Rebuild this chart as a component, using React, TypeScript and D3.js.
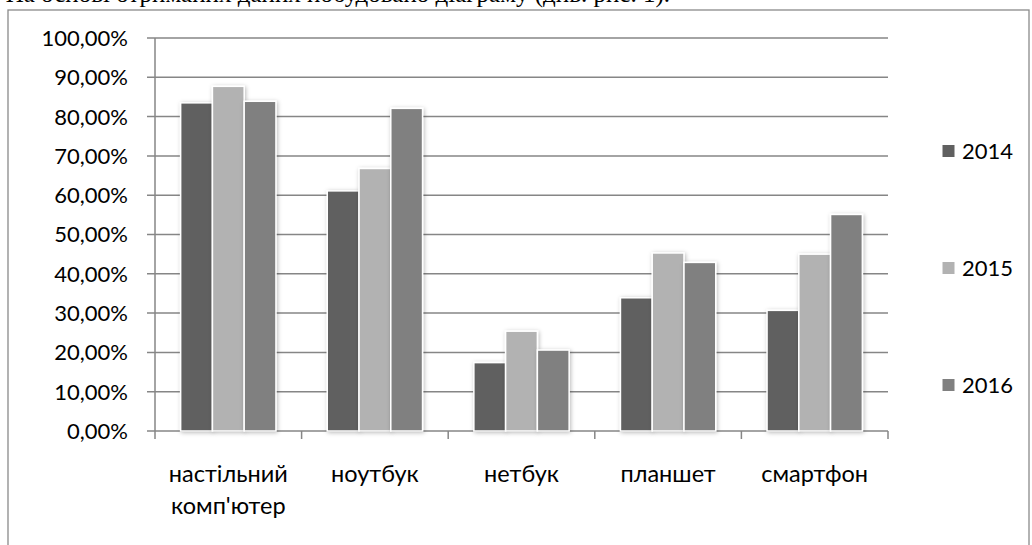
import React from "react";
import * as d3 from "d3";

const categories = ["настільний\nкомп'ютер", "ноутбук", "нетбук", "планшет", "смартфон"];
const years = ["2014", "2015", "2016"];
const values2014 = [0.835, 0.611, 0.174, 0.339, 0.307];
const values2015 = [0.877, 0.668, 0.254, 0.453, 0.45];
const values2016 = [0.839, 0.821, 0.206, 0.429, 0.551];
const yTicks = [0, 0.1, 0.2, 0.3, 0.4, 0.5, 0.6, 0.7, 0.8, 0.9, 1.0];
const colors = ["#606060", "#b2b2b2", "#808080"];
const topText = "На основі отриманих даних побудовано діаграму (див. рис. 1).";

const W = 1032;
const H = 545;
const FONT = "Lato, 'Open Sans', sans-serif";

export default function App() {
  const series = [values2014, values2015, values2016];
  const y = d3.scaleLinear().domain([0, 1]).range([431, 38]);
  const x0 = d3.scaleBand<string>().domain(categories).range([155, 888]).padding(0);
  const groupW = x0.bandwidth() * 0.65;
  const x1 = d3.scaleBand<string>().domain(years).range([0, groupW]).padding(0);
  const off = (x0.bandwidth() - groupW) / 2;
  const fmt = (v: number) => (v * 100).toFixed(2).replace(".", ",") + "%";
  const gridColor = "#868686";
  const boundaries = categories.map((c) => x0(c) as number).concat([888]);

  return (
    <div style={{ position: "absolute", left: 0, top: 0, width: W, height: H, background: "#fff" }}>
      <svg width={W} height={H} style={{ display: "block" }}>
        <defs>
          <filter id="sh" x="-30%" y="-30%" width="160%" height="160%">
            <feDropShadow dx="1" dy="1" stdDeviation="2" floodColor="#000" floodOpacity="0.28" />
          </filter>
        </defs>
        <text x={670} y={2} textAnchor="end" fontFamily="'Liberation Serif', serif" fontSize={25} fill="#000">
          {topText}
        </text>
        <rect x={8} y={10} width={1021} height={560} fill="none" stroke="#8a8a8a" strokeWidth={1.3} />
        {yTicks.map((t) => (
          <g key={t}>
            <line x1={147} x2={888} y1={y(t)} y2={y(t)} stroke={gridColor} strokeWidth={1.5} />
            <text x={128} y={y(t)} dy="0.36em" textAnchor="end" fontFamily={FONT} fontSize={22} fill="#000">
              {fmt(t)}
            </text>
          </g>
        ))}
        <line x1={155} x2={155} y1={y(1)} y2={y(0)} stroke={gridColor} strokeWidth={1.5} />
        {boundaries.map((b, i) => (
          <line key={i} x1={b} x2={b} y1={y(0)} y2={y(0) + 8} stroke={gridColor} strokeWidth={1.5} />
        ))}
        {categories.map((c, ci) => (
          <g key={c}>
            {years.map((yr, si) => {
              const v = series[si][ci];
              const bx = (x0(c) as number) + off + (x1(yr) as number);
              return (
                <rect
                  key={yr}
                  x={bx}
                  y={y(v)}
                  width={x1.bandwidth()}
                  height={y(0) - y(v)}
                  fill={colors[si]}
                  stroke="#fff"
                  strokeWidth={1.5}
                  filter="url(#sh)"
                />
              );
            })}
            {c.split("\n").map((line, li) => (
              <text
                key={li}
                x={(x0(c) as number) + x0.bandwidth() / 2}
                y={482 + li * 32}
                textAnchor="middle"
                fontFamily={FONT}
                fontSize={23.5}
                fill="#000"
              >
                {line}
              </text>
            ))}
          </g>
        ))}
        {years.map((yr, i) => {
          const cy = 151 + i * 117;
          return (
            <g key={yr}>
              <rect x={942} y={cy - 6.5} width={13} height={13} fill={colors[i]} stroke="#fff" strokeWidth={1} />
              <text x={962} y={cy} dy="0.36em" fontFamily={FONT} fontSize={22} fill="#000">
                {yr}
              </text>
            </g>
          );
        })}
      </svg>
    </div>
  );
}
